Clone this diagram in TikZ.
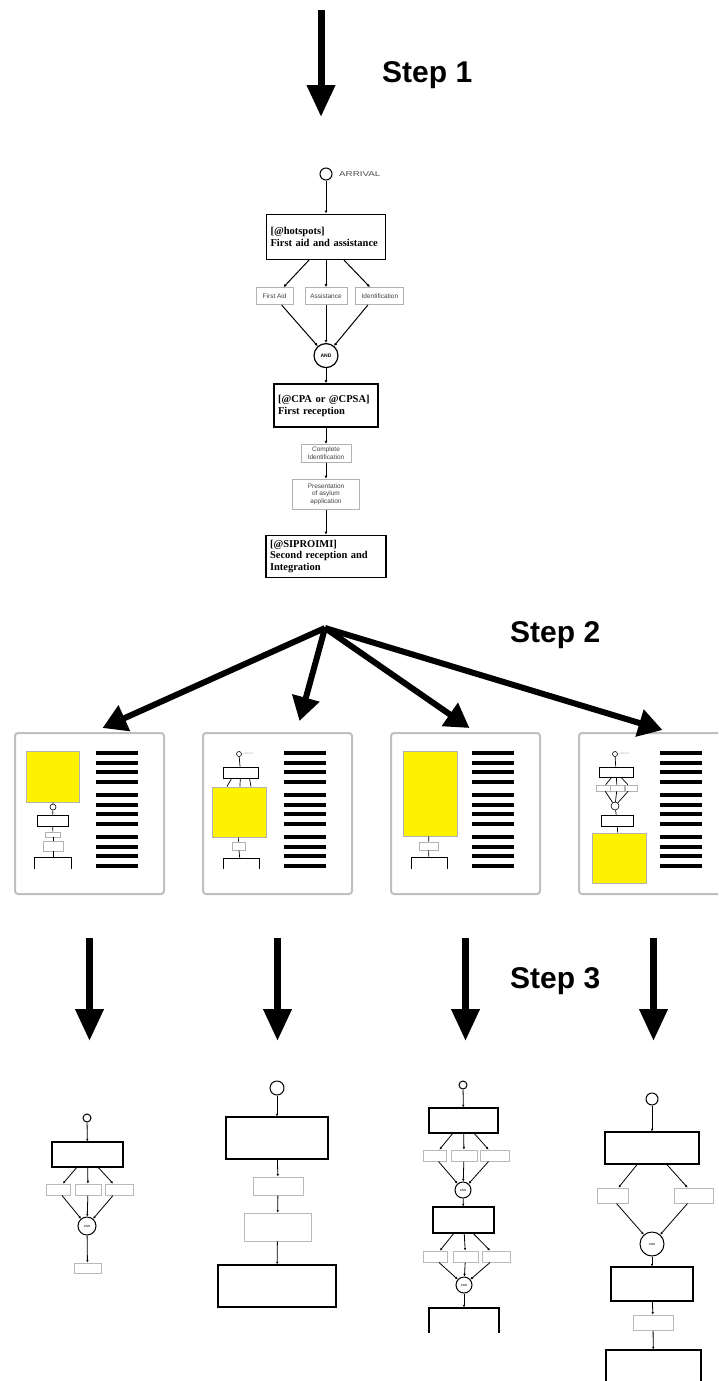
\documentclass[tikz,border=0pt]{standalone}
\usepackage{fontspec}
\setmainfont{Liberation Serif}
\setsansfont{Liberation Sans}
\usepackage{tikz}
\usetikzlibrary{positioning, arrows.meta}

\begin{document}
\begin{tikzpicture}[
  x=1pt, y=-1pt,
  every node/.style={align=center},
  sz/.style 2 args={minimum width=#1pt, minimum height=#2pt},
  steplabel/.style={font=\sffamily\bfseries\fontsize{30}{32}\selectfont,
                    anchor=base west, inner sep=0pt},
  bigarrow/.style={line width=7pt, -{Triangle[length=32pt, width=27pt]}},
  fanarrow/.style={line width=6pt, -{Triangle[length=24pt, width=27pt]}},
  stage/.style={draw, line width=1.6pt, align=left, inner xsep=4pt, inner ysep=2pt,
                font=\bfseries\fontsize{10.5}{12}\selectfont},
  activity/.style={draw=gray!60, line width=0.9pt, inner sep=1pt,
                   font=\sffamily\fontsize{6.5}{7.5}\selectfont, text=gray!50!black},
  gate/.style={draw, circle, line width=1.2pt, inner sep=0pt,
               font=\sffamily\bfseries\fontsize{5}{5}\selectfont},
  entry/.style={draw, circle, line width=1pt, inner sep=0pt},
  flow/.style={-{Latex[length=3pt, width=3pt]}, line width=1pt},
  panel/.style={draw=gray!50, line width=2pt, rounded corners=3pt, fill=white,
                minimum width=149pt, minimum height=161pt},
  bar/.style={line width=4pt},
  focus/.style={draw=gray!60, fill=yellow, line width=0.8pt, inner sep=0pt},
  mtask/.style={draw, line width=0.9pt, inner sep=0pt},
  msub/.style={draw=gray!60, line width=0.6pt, inner sep=0pt},
  mgate/.style={draw, circle, line width=0.6pt, inner sep=0pt},
  mentry/.style={draw, circle, line width=0.6pt, inner sep=0pt},
  mlink/.style={line width=0.7pt},
  tinylbl/.style={anchor=west, inner sep=0pt, text=gray!60,
                  font=\sffamily\fontsize{2.5}{3}\selectfont},
  task/.style={draw, line width=1.4pt, inner sep=0pt},
  sub/.style={draw=gray!55, line width=1pt, inner sep=0pt},
  andgate/.style={draw, circle, line width=1pt, inner sep=0pt,
                  font=\sffamily\fontsize{3}{3}\selectfont},
  link/.style={-{Latex[length=2.5pt, width=2.5pt]}, line width=0.8pt}
]
\useasboundingbox (0,0) rectangle (718,1381);
\clip (0,0) rectangle (718,1381);

% step 1: the full process
\coordinate (s1top) at (321,10);
\coordinate (s1tip) at (321,117);
\draw[bigarrow] (s1top) -- (s1tip);
\node[steplabel] (step1) at (382,82) {Step 1};

\node[entry, minimum size=12pt] (arrival) at (326,174) {};
\node[anchor=west, inner sep=0pt, text=gray!60!black,
      font=\sffamily\fontsize{7}{7}\selectfont] (arrlbl) at (339,174)
  {\scalebox{1.4}[1]{ARRIVAL}};
\node[stage, text width=111pt, minimum height=45pt, below=33pt of arrival] (hotspots)
  {[@hotspots]\\First aid and assistance};
\node[activity, sz={42}{17}, below=27pt of hotspots] (assist) {Assistance};
\node[activity, sz={37}{17}, left=11pt of assist] (firstaid) {First Aid};
\node[activity, sz={48}{17}, right=8pt of assist] (ident) {Identification};
\node[gate, minimum size=24pt, below=38pt of assist] (and) {AND};
\node[stage, text width=96pt, minimum height=43pt, below=15pt of and] (cpa)
  {[@CPA or @CPSA]\\First reception};
\node[activity, sz={50}{18}, below=16pt of cpa] (complete) {Complete\\Identification};
\node[activity, sz={67}{30}, below=16pt of complete] (present)
  {Presentation\\of asylum\\application};
\node[stage, text width=112pt, minimum height=42pt, below=25pt of present,
      font=\bfseries\fontsize{10.5}{11.5}\selectfont] (siproimi)
  {[@SIPROIMI]\\Second reception and\\Integration};

\draw[flow] (arrival) -- (hotspots);
\draw[flow] ([xshift=-17pt]hotspots.south) -- ([xshift=9pt]firstaid.north);
\draw[flow] (hotspots) -- (assist);
\draw[flow] ([xshift=18pt]hotspots.south) -- ([xshift=-10pt]ident.north);
\draw[flow] ([xshift=7pt]firstaid.south) -- (and);
\draw[flow] (assist) -- (and);
\draw[flow] ([xshift=-12pt]ident.south) -- (and);
\draw[flow] (and) -- (cpa);
\draw[flow] (cpa) -- (complete);
\draw[flow] (complete) -- (present);
\draw[flow] (present) -- (siproimi);

% step 2: one page per stage
\node[steplabel] (step2) at (510,642) {Step 2};
\coordinate (hub) at (325,628);
\node[panel] (pan1) at (89.5,813.5) {};
\node[panel, right=37pt of pan1] (pan2) {};
\node[panel, right=37pt of pan2] (pan3) {};
\node[panel, right=37pt of pan3] (pan4) {};

\draw[fanarrow] (hub) -- ([xshift=13pt, yshift=4pt]pan1.north);
\draw[fanarrow] (hub) -- ([xshift=22pt, yshift=11pt]pan2.north);
\draw[fanarrow] (hub) -- ([xshift=4pt, yshift=4pt]pan3.north);
\draw[fanarrow] (hub) -- ([xshift=9pt, yshift=2pt]pan4.north);

\foreach \p in {pan1,pan2,pan3,pan4}
  \foreach \g in {0,1,2}
    \foreach \k in {0,...,3}
      \draw[bar] ([shift={(82,21+42*\g+9.5*\k)}]\p.north west) -- ++(42,0);

\begin{scope}[shift={(pan1.north west)}]
  \node[focus, sz={53}{51}] (p1y) at (38.5,44.5) {};
  \node[mgate, minimum size=6pt] (p1g) at (39,75) {};
  \node[mtask, sz={31}{11}] (p1a) at (38.5,88.5) {};
  \node[msub, sz={15}{5}] (p1b) at (39,102.5) {};
  \node[msub, sz={20}{10}] (p1c) at (39,114) {};
  \begin{scope}
    \clip (0,0) rectangle (149,136);
    \node[mtask, sz={37}{24}] (p1d) at (39,137) {};
  \end{scope}
  \draw[mlink] (p1y) -- (p1g);
  \draw[mlink] (p1g) -- (p1a);
  \draw[mlink] (p1a) -- (p1b);
  \draw[mlink] (p1b) -- (p1c);
  \draw[mlink] (p1c) -- (p1d);
\end{scope}

\begin{scope}[shift={(pan2.north west)}]
  \node[mentry, minimum size=5pt] (p2s) at (37,22) {};
  \node[tinylbl] (p2l) at (41,22) {ARRIVAL};
  \node[mtask, sz={35}{11}] (p2a) at (38.5,40.5) {};
  \node[focus, sz={54}{50}] (p2y) at (37,80) {};
  \node[msub, sz={13}{8}] (p2b) at (36.5,114) {};
  \begin{scope}
    \clip (0,0) rectangle (149,136);
    \node[mtask, sz={36}{24}] (p2d) at (39,138) {};
  \end{scope}
  \draw[mlink] (p2s) -- (p2a);
  \draw[mlink] ([xshift=-9pt]p2a.south) -- ([xshift=-12pt]p2y.north);
  \draw[mlink] (p2a) -- (p2y);
  \draw[mlink] ([xshift=9pt]p2a.south) -- ([xshift=12pt]p2y.north);
  \draw[mlink] (p2y) -- (p2b);
  \draw[mlink] (p2b) -- (p2d);
\end{scope}

\begin{scope}[shift={(pan3.north west)}]
  \node[focus, sz={54}{85}] (p3y) at (40,61.5) {};
  \node[msub, sz={19}{8}] (p3b) at (38.5,114) {};
  \begin{scope}
    \clip (0,0) rectangle (149,136);
    \node[mtask, sz={36}{24}] (p3d) at (39,137) {};
  \end{scope}
  \draw[mlink] (p3y) -- (p3b);
  \draw[mlink] (p3b) -- (p3d);
\end{scope}

\begin{scope}[shift={(pan4.north west)}]
  \node[mentry, minimum size=5pt] (p4s) at (37,22) {};
  \node[tinylbl] (p4l) at (41,22) {ARRIVAL};
  \node[mtask, sz={34}{10}] (p4a) at (38,40) {};
  \node[msub, sz={14}{6}] (p4b) at (25,56) {};
  \node[msub, sz={14}{6}] (p4c) at (39,56) {};
  \node[msub, sz={12}{6}] (p4d) at (53,56) {};
  \node[mgate, minimum size=8pt] (p4g) at (37,74) {};
  \node[mtask, sz={32}{11}] (p4e) at (39,88.5) {};
  \node[focus, sz={54}{50}] (p4y) at (41,126) {};
  \draw[mlink] (p4s) -- (p4a);
  \draw[mlink] (p4a) -- (p4b);
  \draw[mlink] (p4a) -- (p4c);
  \draw[mlink] (p4a) -- (p4d);
  \draw[mlink] (p4b) -- (p4g);
  \draw[mlink] (p4c) -- (p4g);
  \draw[mlink] (p4d) -- (p4g);
  \draw[mlink] (p4g) -- (p4e);
  \draw[mlink] (p4e) -- (p4y);
\end{scope}

% step 3: the rebuilt models
\node[steplabel] (step3) at (510,988) {Step 3};
\foreach \p in {pan1,pan2,pan3,pan4}
  \draw[bigarrow] ([yshift=-43pt]\p.south) -- ++(0,103);

% model a
\node[entry, minimum size=8pt] (a0) at (87,1118) {};
\node[task, sz={71}{25}] (a1) at (87.5,1154.5) {};
\node[sub, sz={24}{11}] (a2) at (58,1189.5) {};
\node[sub, sz={26}{11}] (a3) at (88,1189.5) {};
\node[sub, sz={28}{11}] (a4) at (119,1189.5) {};
\node[andgate, minimum size=18pt] (a5) at (87,1226) {AND};
\node[sub, sz={27}{10}] (a6) at (87.5,1268) {};
\draw[link] (a0) -- (a1);
\draw[link] ([xshift=-11pt]a1.south) -- ([xshift=5pt]a2.north);
\draw[link] (a1) -- (a3);
\draw[link] ([xshift=11pt]a1.south) -- ([xshift=-6pt]a4.north);
\draw[link] ([xshift=4pt]a2.south) -- (a5);
\draw[link] (a3) -- (a5);
\draw[link] ([xshift=-6pt]a4.south) -- (a5);
\draw[link] (a5) -- (a6);

% model b
\node[entry, minimum size=14pt] (b0) at (277,1088) {};
\node[task, sz={102}{42}] (b1) at (277,1138) {};
\node[sub, sz={50}{18}] (b2) at (278,1186) {};
\node[sub, sz={67}{28}] (b3) at (277.5,1227) {};
\node[task, sz={118}{42}] (b4) at (277,1286) {};
\draw[link] (b0) -- (b1);
\draw[link] (b1) -- (b2);
\draw[link] (b2) -- (b3);
\draw[link] (b3) -- (b4);

% model c
\node[entry, minimum size=8pt] (c0) at (463,1085) {};
\node[task, sz={69}{25}] (c1) at (463.5,1120.5) {};
\node[sub, sz={23}{11}] (c2) at (434.5,1155.5) {};
\node[sub, sz={26}{11}] (c3) at (464,1155.5) {};
\node[sub, sz={29}{11}] (c4) at (494.5,1155.5) {};
\node[andgate, minimum size=16pt] (c5) at (463,1190) {AND};
\node[task, sz={61}{26}] (c6) at (463.5,1220) {};
\node[sub, sz={24}{11}] (c7) at (435,1256.5) {};
\node[sub, sz={25}{11}] (c8) at (465.5,1256.5) {};
\node[sub, sz={28}{11}] (c9) at (496,1256.5) {};
\node[andgate, minimum size=16pt] (c10) at (464,1285) {AND};
\begin{scope}
  \clip (400,1300) rectangle (530,1332);
  \node[task, sz={70}{50}] (c11) at (464,1333) {};
\end{scope}
\draw[link] (c0) -- (c1);
\draw[link] ([xshift=-11pt]c1.south) -- ([xshift=5pt]c2.north);
\draw[link] (c1) -- (c3);
\draw[link] ([xshift=11pt]c1.south) -- ([xshift=-6pt]c4.north);
\draw[link] ([xshift=4pt]c2.south) -- (c5);
\draw[link] (c3) -- (c5);
\draw[link] ([xshift=-6pt]c4.south) -- (c5);
\draw[link] (c5) -- (c6);
\draw[link] ([xshift=-10pt]c6.south) -- ([xshift=5pt]c7.north);
\draw[link] (c6) -- (c8);
\draw[link] ([xshift=10pt]c6.south) -- ([xshift=-6pt]c9.north);
\draw[link] ([xshift=4pt]c7.south) -- (c10);
\draw[link] (c8) -- (c10);
\draw[link] ([xshift=-6pt]c9.south) -- (c10);
\draw[link] (c10) -- (c11);

% model d
\node[entry, minimum size=12pt] (d0) at (652,1099) {};
\node[task, sz={94}{32}] (d1) at (652,1148) {};
\node[sub, sz={31}{15}] (d2) at (612.5,1195.5) {};
\node[sub, sz={39}{15}] (d3) at (693.5,1195.5) {};
\node[andgate, minimum size=24pt] (d4) at (652,1244) {AND};
\node[task, sz={82}{34}] (d5) at (652,1284) {};
\node[sub, sz={40}{15}] (d6) at (653,1322.5) {};
\node[task, sz={95}{50}] (d7) at (653.5,1375) {};
\draw[link] (d0) -- (d1);
\draw[link] ([xshift=-15pt]d1.south) -- ([xshift=6pt]d2.north);
\draw[link] ([xshift=15pt]d1.south) -- ([xshift=-6pt]d3.north);
\draw[link] ([xshift=4pt]d2.south) -- (d4);
\draw[link] ([xshift=-6pt]d3.south) -- (d4);
\draw[link] (d4) -- (d5);
\draw[link] (d5) -- (d6);
\draw[link] (d6) -- (d7);
\end{tikzpicture}
\end{document}
